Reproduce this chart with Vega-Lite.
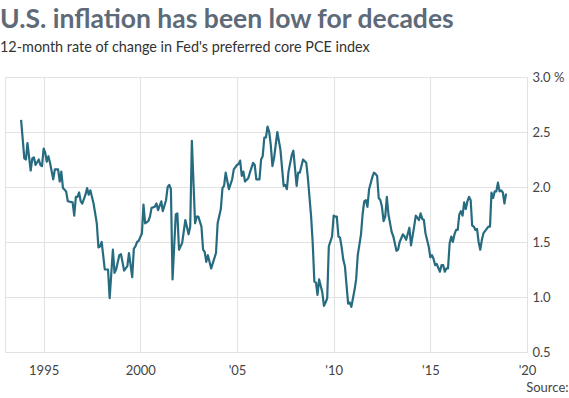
{
  "$schema": "https://vega.github.io/schema/vega-lite/v6.json",
  "width": 522,
  "height": 275,
  "autosize": "none",
  "padding": {"left": 5, "top": 77, "right": 42, "bottom": 46},
  "background": "white",
  "title": {
    "text": "U.S. inflation has been low for decades",
    "subtitle": "12-month rate of change in Fed's preferred core PCE index",
    "anchor": "start",
    "frame": "group",
    "dx": -5,
    "offset": 17,
    "font": "Lato",
    "fontSize": 26.5,
    "fontWeight": "bold",
    "color": "#5e6a78",
    "subtitleFont": "Lato",
    "subtitleFontSize": 14.4,
    "subtitleColor": "#333333",
    "subtitlePadding": 7
  },
  "config": {
    "view": {"stroke": "#e2e2e2", "strokeWidth": 1},
    "axis": {
      "labelFont": "Lato",
      "labelFontSize": 13,
      "labelColor": "#444444",
      "gridColor": "#e2e2e2",
      "gridWidth": 1,
      "domain": false,
      "ticks": false,
      "tickSize": 0
    }
  },
  "data": {
    "values": [
      {"date": "1993-11", "rate": 2.61}, {"date": "1994-01", "rate": 2.26}, {"date": "1994-02", "rate": 2.25},
      {"date": "1994-03", "rate": 2.40}, {"date": "1994-05", "rate": 2.15}, {"date": "1994-06", "rate": 2.26},
      {"date": "1994-07", "rate": 2.27}, {"date": "1994-08", "rate": 2.20}, {"date": "1994-10", "rate": 2.25},
      {"date": "1994-11", "rate": 2.20}, {"date": "1994-12", "rate": 2.19}, {"date": "1995-01", "rate": 2.35},
      {"date": "1995-02", "rate": 2.31}, {"date": "1995-03", "rate": 2.23}, {"date": "1995-04", "rate": 2.28},
      {"date": "1995-05", "rate": 2.22}, {"date": "1995-07", "rate": 2.07}, {"date": "1995-08", "rate": 2.16},
      {"date": "1995-10", "rate": 2.16}, {"date": "1995-11", "rate": 2.05}, {"date": "1995-12", "rate": 2.14},
      {"date": "1996-01", "rate": 1.99}, {"date": "1996-03", "rate": 1.96}, {"date": "1996-04", "rate": 1.87},
      {"date": "1996-07", "rate": 1.86}, {"date": "1996-08", "rate": 1.74}, {"date": "1996-09", "rate": 1.91},
      {"date": "1996-10", "rate": 1.91}, {"date": "1996-11", "rate": 1.95}, {"date": "1996-12", "rate": 1.87},
      {"date": "1997-01", "rate": 1.85}, {"date": "1997-03", "rate": 1.93}, {"date": "1997-04", "rate": 1.99},
      {"date": "1997-05", "rate": 1.93}, {"date": "1997-06", "rate": 1.97}, {"date": "1997-08", "rate": 1.85},
      {"date": "1997-10", "rate": 1.67}, {"date": "1997-11", "rate": 1.45}, {"date": "1997-12", "rate": 1.46},
      {"date": "1998-01", "rate": 1.50}, {"date": "1998-02", "rate": 1.37}, {"date": "1998-03", "rate": 1.25},
      {"date": "1998-05", "rate": 1.25}, {"date": "1998-06", "rate": 0.99}, {"date": "1998-08", "rate": 1.43},
      {"date": "1998-09", "rate": 1.22}, {"date": "1998-10", "rate": 1.25}, {"date": "1998-12", "rate": 1.38},
      {"date": "1999-01", "rate": 1.39}, {"date": "1999-03", "rate": 1.24}, {"date": "1999-05", "rate": 1.28},
      {"date": "1999-06", "rate": 1.40}, {"date": "1999-08", "rate": 1.18}, {"date": "1999-09", "rate": 1.44},
      {"date": "1999-10", "rate": 1.46}, {"date": "1999-11", "rate": 1.50}, {"date": "1999-12", "rate": 1.51},
      {"date": "2000-02", "rate": 1.58}, {"date": "2000-03", "rate": 1.84}, {"date": "2000-04", "rate": 1.67},
      {"date": "2000-06", "rate": 1.69}, {"date": "2000-07", "rate": 1.73}, {"date": "2000-08", "rate": 1.81},
      {"date": "2000-10", "rate": 1.82}, {"date": "2000-11", "rate": 1.85}, {"date": "2000-12", "rate": 1.79},
      {"date": "2001-02", "rate": 1.87}, {"date": "2001-03", "rate": 1.78}, {"date": "2001-05", "rate": 1.88},
      {"date": "2001-06", "rate": 2.00}, {"date": "2001-07", "rate": 2.02}, {"date": "2001-08", "rate": 1.98},
      {"date": "2001-09", "rate": 1.16}, {"date": "2001-11", "rate": 1.75}, {"date": "2001-12", "rate": 1.76},
      {"date": "2002-01", "rate": 1.43}, {"date": "2002-03", "rate": 1.49}, {"date": "2002-05", "rate": 1.70},
      {"date": "2002-07", "rate": 1.57}, {"date": "2002-08", "rate": 1.64}, {"date": "2002-09", "rate": 2.42},
      {"date": "2002-11", "rate": 1.67}, {"date": "2002-12", "rate": 1.73}, {"date": "2003-01", "rate": 1.73},
      {"date": "2003-03", "rate": 1.64}, {"date": "2003-04", "rate": 1.43}, {"date": "2003-05", "rate": 1.41},
      {"date": "2003-06", "rate": 1.32}, {"date": "2003-07", "rate": 1.38}, {"date": "2003-09", "rate": 1.26},
      {"date": "2003-12", "rate": 1.40}, {"date": "2004-01", "rate": 1.67}, {"date": "2004-03", "rate": 1.80},
      {"date": "2004-04", "rate": 1.99}, {"date": "2004-05", "rate": 2.01}, {"date": "2004-06", "rate": 2.13},
      {"date": "2004-08", "rate": 1.98}, {"date": "2004-10", "rate": 2.07}, {"date": "2004-11", "rate": 2.16},
      {"date": "2005-01", "rate": 2.20}, {"date": "2005-02", "rate": 2.21}, {"date": "2005-03", "rate": 2.24},
      {"date": "2005-04", "rate": 2.10}, {"date": "2005-05", "rate": 2.14}, {"date": "2005-06", "rate": 2.05},
      {"date": "2005-08", "rate": 2.08}, {"date": "2005-09", "rate": 2.13}, {"date": "2005-11", "rate": 2.22},
      {"date": "2005-12", "rate": 2.20}, {"date": "2006-01", "rate": 2.07}, {"date": "2006-03", "rate": 2.07},
      {"date": "2006-04", "rate": 2.25}, {"date": "2006-05", "rate": 2.28}, {"date": "2006-06", "rate": 2.45},
      {"date": "2006-07", "rate": 2.45}, {"date": "2006-08", "rate": 2.55}, {"date": "2006-09", "rate": 2.50},
      {"date": "2006-10", "rate": 2.38}, {"date": "2006-11", "rate": 2.19}, {"date": "2006-12", "rate": 2.26},
      {"date": "2007-02", "rate": 2.50}, {"date": "2007-04", "rate": 2.34}, {"date": "2007-06", "rate": 2.01},
      {"date": "2007-07", "rate": 2.02}, {"date": "2007-08", "rate": 1.98}, {"date": "2007-09", "rate": 2.14},
      {"date": "2007-11", "rate": 2.29}, {"date": "2007-12", "rate": 2.33}, {"date": "2008-02", "rate": 2.01},
      {"date": "2008-03", "rate": 2.13}, {"date": "2008-04", "rate": 2.13}, {"date": "2008-06", "rate": 2.25},
      {"date": "2008-08", "rate": 2.22}, {"date": "2008-09", "rate": 2.08}, {"date": "2008-11", "rate": 1.73},
      {"date": "2008-12", "rate": 1.49}, {"date": "2009-01", "rate": 1.14}, {"date": "2009-02", "rate": 1.13},
      {"date": "2009-03", "rate": 1.02}, {"date": "2009-04", "rate": 1.16}, {"date": "2009-06", "rate": 1.04},
      {"date": "2009-07", "rate": 0.92}, {"date": "2009-08", "rate": 0.95}, {"date": "2009-09", "rate": 0.99},
      {"date": "2009-10", "rate": 1.46}, {"date": "2009-12", "rate": 1.55}, {"date": "2010-01", "rate": 1.74},
      {"date": "2010-02", "rate": 1.73}, {"date": "2010-03", "rate": 1.73}, {"date": "2010-04", "rate": 1.55},
      {"date": "2010-05", "rate": 1.54}, {"date": "2010-06", "rate": 1.45}, {"date": "2010-07", "rate": 1.34},
      {"date": "2010-08", "rate": 1.28}, {"date": "2010-10", "rate": 0.94}, {"date": "2010-11", "rate": 0.95},
      {"date": "2010-12", "rate": 0.91}, {"date": "2011-02", "rate": 1.07}, {"date": "2011-03", "rate": 1.16},
      {"date": "2011-04", "rate": 1.38}, {"date": "2011-06", "rate": 1.57}, {"date": "2011-07", "rate": 1.75},
      {"date": "2011-08", "rate": 1.87}, {"date": "2011-09", "rate": 1.88}, {"date": "2011-10", "rate": 1.82},
      {"date": "2011-11", "rate": 1.98}, {"date": "2012-01", "rate": 2.09}, {"date": "2012-02", "rate": 2.13},
      {"date": "2012-03", "rate": 2.12}, {"date": "2012-04", "rate": 2.10}, {"date": "2012-05", "rate": 1.90},
      {"date": "2012-06", "rate": 1.88}, {"date": "2012-07", "rate": 1.82}, {"date": "2012-08", "rate": 1.69},
      {"date": "2012-09", "rate": 1.73}, {"date": "2012-10", "rate": 1.91}, {"date": "2012-11", "rate": 1.75},
      {"date": "2013-01", "rate": 1.59}, {"date": "2013-02", "rate": 1.55}, {"date": "2013-04", "rate": 1.42},
      {"date": "2013-05", "rate": 1.43}, {"date": "2013-06", "rate": 1.50}, {"date": "2013-08", "rate": 1.57},
      {"date": "2013-09", "rate": 1.55}, {"date": "2013-10", "rate": 1.52}, {"date": "2013-12", "rate": 1.63},
      {"date": "2014-01", "rate": 1.47}, {"date": "2014-03", "rate": 1.64}, {"date": "2014-04", "rate": 1.74},
      {"date": "2014-06", "rate": 1.70}, {"date": "2014-07", "rate": 1.76}, {"date": "2014-08", "rate": 1.71},
      {"date": "2014-09", "rate": 1.70}, {"date": "2014-10", "rate": 1.58}, {"date": "2014-12", "rate": 1.46},
      {"date": "2015-01", "rate": 1.36}, {"date": "2015-02", "rate": 1.38}, {"date": "2015-03", "rate": 1.35},
      {"date": "2015-04", "rate": 1.29}, {"date": "2015-05", "rate": 1.30}, {"date": "2015-07", "rate": 1.23},
      {"date": "2015-08", "rate": 1.29}, {"date": "2015-09", "rate": 1.29}, {"date": "2015-10", "rate": 1.23},
      {"date": "2015-11", "rate": 1.26}, {"date": "2015-12", "rate": 1.26}, {"date": "2016-01", "rate": 1.49},
      {"date": "2016-02", "rate": 1.55}, {"date": "2016-03", "rate": 1.50}, {"date": "2016-04", "rate": 1.57},
      {"date": "2016-05", "rate": 1.61}, {"date": "2016-06", "rate": 1.61}, {"date": "2016-07", "rate": 1.75},
      {"date": "2016-08", "rate": 1.78}, {"date": "2016-09", "rate": 1.74}, {"date": "2016-10", "rate": 1.86},
      {"date": "2016-11", "rate": 1.80}, {"date": "2016-12", "rate": 1.87}, {"date": "2017-01", "rate": 1.91},
      {"date": "2017-02", "rate": 1.88}, {"date": "2017-03", "rate": 1.65}, {"date": "2017-04", "rate": 1.64},
      {"date": "2017-05", "rate": 1.61}, {"date": "2017-06", "rate": 1.62}, {"date": "2017-07", "rate": 1.50},
      {"date": "2017-08", "rate": 1.43}, {"date": "2017-09", "rate": 1.52}, {"date": "2017-10", "rate": 1.58},
      {"date": "2017-12", "rate": 1.62}, {"date": "2018-01", "rate": 1.64}, {"date": "2018-02", "rate": 1.64},
      {"date": "2018-03", "rate": 1.95}, {"date": "2018-04", "rate": 1.90}, {"date": "2018-05", "rate": 1.96},
      {"date": "2018-06", "rate": 1.96}, {"date": "2018-07", "rate": 2.04}, {"date": "2018-08", "rate": 1.96},
      {"date": "2018-09", "rate": 1.97}, {"date": "2018-10", "rate": 1.95}, {"date": "2018-11", "rate": 1.85},
      {"date": "2018-12", "rate": 1.94}
    ]
  },
  "mark": {"type": "line", "color": "#276b81", "strokeWidth": 2.2, "strokeJoin": "round", "clip": true},
  "encoding": {
    "x": {
      "field": "date",
      "type": "temporal",
      "scale": {
        "type": "utc",
        "domain": [{"year": 1993, "month": 1, "date": 1, "utc": true}, {"year": 2020, "month": 1, "date": 1, "utc": true}]
      },
      "axis": {
        "values": [
          {"year": 1995, "utc": true}, {"year": 2000, "utc": true}, {"year": 2005, "utc": true},
          {"year": 2010, "utc": true}, {"year": 2015, "utc": true}, {"year": 2020, "utc": true}
        ],
        "labelExpr": "utcyear(datum.value) <= 2000 ? utcFormat(datum.value, '%Y') : \"'\" + utcFormat(datum.value, '%y')",
        "labelPadding": 12,
        "labelAlign": "center",
        "title": "Source:",
        "titleFont": "Lato",
        "titleFontSize": 13,
        "titleFontWeight": "normal",
        "titleColor": "#444444",
        "titleAnchor": "end",
        "titleAlign": "right",
        "titleBaseline": "alphabetic",
        "titleX": 563,
        "titleY": 39
      }
    },
    "y": {
      "field": "rate",
      "type": "quantitative",
      "scale": {"domain": [0.5, 3.0], "nice": false, "zero": false},
      "axis": {
        "orient": "right",
        "values": [0.5, 1.0, 1.5, 2.0, 2.5, 3.0],
        "labelExpr": "datum.value == 3 ? format(datum.value, '.1f') + ' %' : format(datum.value, '.1f')",
        "labelPadding": 5,
        "labelAlign": "left",
        "labelBaseline": "middle",
        "title": null
      }
    }
  }
}
